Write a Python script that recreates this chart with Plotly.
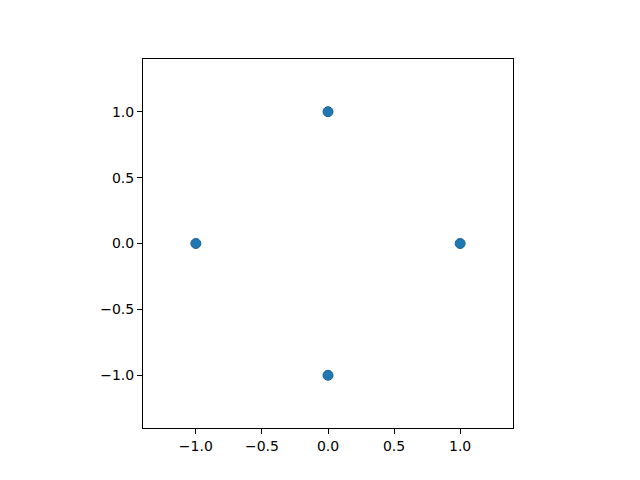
import plotly.graph_objects as go

x_vals = [0, 1, 0, -1]
y_vals = [1, 0, -1, 0]
tick_vals = [-1.0, -0.5, 0.0, 0.5, 1.0]
tick_text = ["\u22121.0", "\u22120.5", "0.0", "0.5", "1.0"]

fig = go.Figure()
fig.add_trace(go.Scatter(
    x=x_vals, y=y_vals, mode="markers",
    marker=dict(size=10, color="#1f77b4", line=dict(color="#1a5f91", width=1)),
    showlegend=False,
))

axis_common = dict(
    range=[-1.4, 1.4], showgrid=False, zeroline=False,
    showline=True, mirror=True, linecolor="black", linewidth=1,
    ticks="outside", ticklen=5, tickwidth=1, tickcolor="black",
    tickvals=tick_vals, ticktext=tick_text,
    tickfont=dict(family="DejaVu Sans", size=14, color="black"),
)
fig.update_xaxes(**axis_common)
fig.update_yaxes(**axis_common)
fig.update_layout(
    width=640, height=480,
    margin=dict(l=135, r=135, t=51, b=60),
    plot_bgcolor="white", paper_bgcolor="white",
)
fig.write_html("out.html")
